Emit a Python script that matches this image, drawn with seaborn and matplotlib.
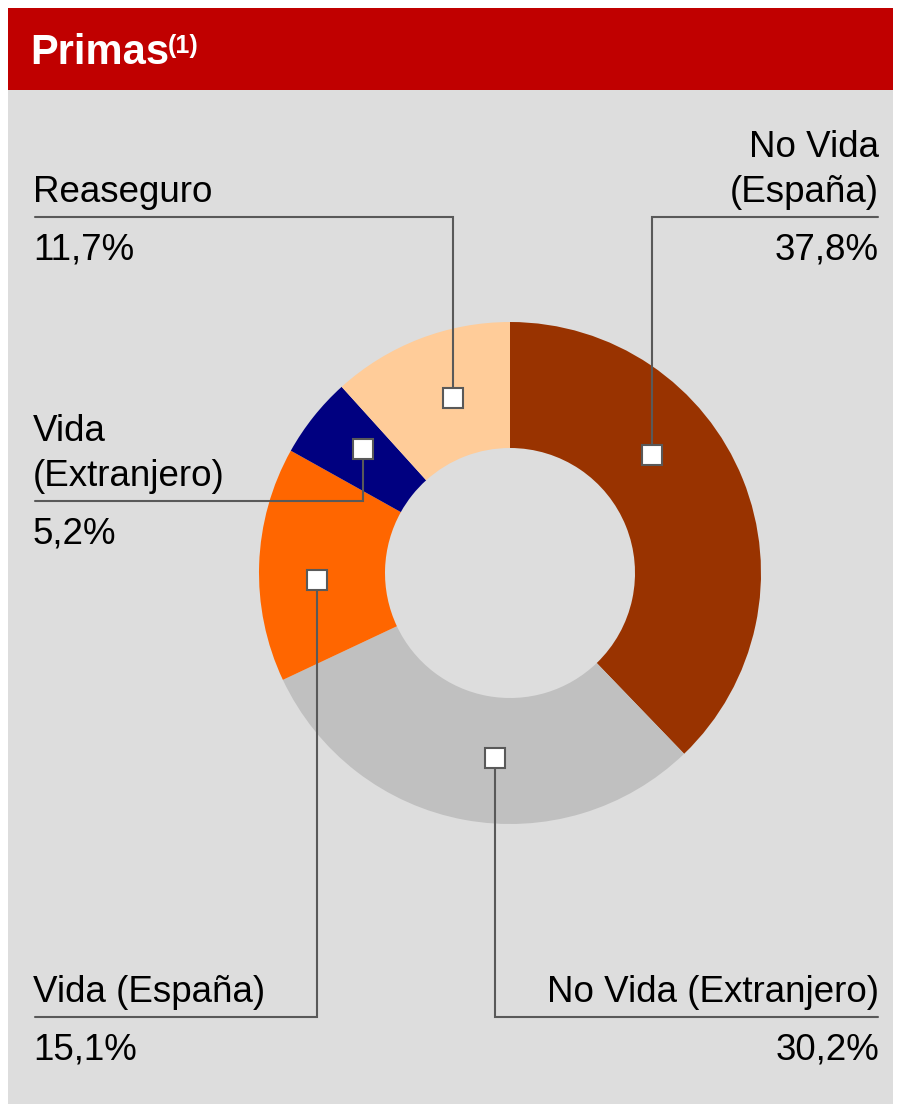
import matplotlib
matplotlib.use("Agg")
import matplotlib.pyplot as plt
import seaborn as sns
from matplotlib.patches import Rectangle

# ---- data ----
categories = ["No Vida (España)", "No Vida (Extranjero)", "Vida (España)",
              "Vida (Extranjero)", "Reaseguro"]
shares = [37.8, 30.2, 15.1, 5.2, 11.7]
pct_labels = ["37,8%", "30,2%", "15,1%", "5,2%", "11,7%"]
label_lines = [["No Vida", "(España)"], ["No Vida (Extranjero)"], ["Vida (España)"],
               ["Vida", "(Extranjero)"], ["Reaseguro"]]
title = "Primas"
title_sup = "(1)"

# ---- style ----
sns.set_theme(style="white")
plt.rcParams["font.family"] = ["Liberation Sans", "DejaVu Sans"]
palette = sns.color_palette(["#993300", "#c0c0c0", "#ff6600", "#000080", "#ffcc99"])

W, H = 901, 1104
fig = plt.figure(figsize=(W / 100, H / 100), dpi=100, facecolor="white")
ax = fig.add_axes([0, 0, 1, 1])

def Y(y):  # pixel-from-top -> data
    return H - y

# panels
ax.add_patch(Rectangle((8, Y(1104)), 885, 1104 - 90, facecolor="#dddddd", edgecolor="none", zorder=0))
ax.add_patch(Rectangle((8, Y(90)), 885, 82, facecolor="#c00000", edgecolor="none", zorder=0))
ax.text(30, Y(64), title, color="white", fontsize=30, fontweight="bold", va="baseline", ha="left")
ax.text(168, Y(53), title_sup, color="white", fontsize=18, fontweight="bold", va="baseline", ha="left")

# donut
cx, cy, R = 510, 573, 251
ax.pie(shares, colors=palette, startangle=90, counterclock=False, radius=R,
       center=(cx, Y(cy)), wedgeprops=dict(width=126, edgecolor="none", linewidth=0),
       frame=True)

# callout layout: marker (px), elbow y, end x, side
callouts = [
    ((652, 455), 217, 878, "right"),
    ((495, 758), 1017, 878, "right"),
    ((317, 580), 1017, 35, "left"),
    ((363, 449), 501, 35, "left"),
    ((453, 398), 217, 35, "left"),
]
lc = "#595959"
fs = 26.5
for i, ((mx, my), ey, ex, side) in enumerate(callouts):
    ax.plot([mx, mx, ex], [Y(my), Y(ey), Y(ey)], color=lc, lw=1.5, zorder=3,
            solid_joinstyle="miter")
    ax.plot([mx], [Y(my)], marker="s", ms=14.5, mfc="white", mec=lc, mew=1.5, zorder=4)
    tx = 33 if side == "left" else 879
    lines = label_lines[i]
    for k, line in enumerate(reversed(lines)):
        ax.text(tx, Y(ey - 15 - k * 45), line, fontsize=fs, ha=side, va="baseline",
                color="black", zorder=5)
    ax.text(tx, Y(ey + 42), pct_labels[i], fontsize=fs, ha=side, va="baseline",
            color="black", zorder=5)

ax.set_xlim(0, W)
ax.set_ylim(0, H)
ax.set_aspect("auto")
ax.axis("off")
fig.savefig("out.png", dpi=100, facecolor="white")
